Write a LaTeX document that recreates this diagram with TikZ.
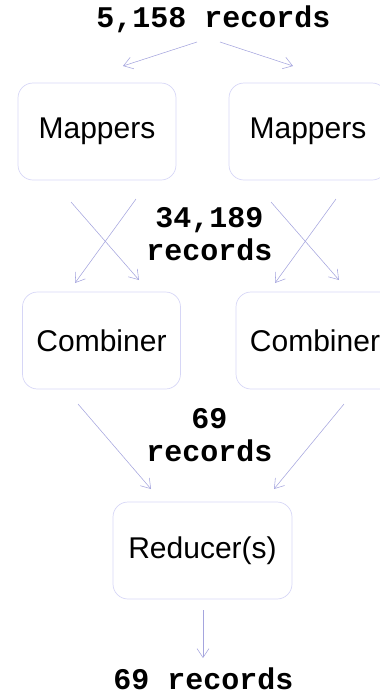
\documentclass[tikz,border=0pt]{standalone}
\usepackage{fontspec}
\setmainfont{Liberation Sans}
\setmonofont{Liberation Mono}
\usepackage{tikz}
\usetikzlibrary{arrows.meta}

\definecolor{boxline}{RGB}{214,214,246}
\definecolor{flowline}{RGB}{165,165,222}

\begin{document}
\begin{tikzpicture}[x=1pt,y=-1pt,
    stage/.style={draw=boxline,line width=0.7pt,rounded corners=15pt,
      minimum width=158pt,minimum height=97pt,inner sep=0pt,
      font=\fontsize{30}{34}\selectfont},
    count/.style={font=\fontsize{30}{33}\selectfont\ttfamily\bfseries,
      align=center,inner sep=0pt},
    flow/.style={draw=flowline,line width=0.55pt,
      -{Straight Barb[length=9pt,width=12pt]}}]
  \useasboundingbox (0,0) rectangle (380,694);
  % input
  \node[count,anchor=base] (input) at (213.5,27) {5,158 records};
  \coordinate (inL) at (197,42);
  \coordinate (inR) at (220,42);
  \coordinate (toMapL) at (123,66);
  \coordinate (toMapR) at (293,66);
  \draw[flow] (inL) -- (toMapL);
  \draw[flow] (inR) -- (toMapR);
  % map stage
  \node[stage] (mapL) at (97,131.5) {Mappers};
  \node[stage] (mapR) at (308,131.5) {Mappers};
  \node[count] (mapout) at (209.5,234.5) {34,189\\records};
  \coordinate (mLa) at (71,202);   \coordinate (mLb) at (136,199);
  \coordinate (mRa) at (271,202);  \coordinate (mRb) at (336,199);
  \coordinate (cLa) at (75,283);   \coordinate (cLb) at (139,280);
  \coordinate (cRa) at (275,283);  \coordinate (cRb) at (339,280);
  \draw[flow] (mLa) -- (cLb);
  \draw[flow] (mLb) -- (cLa);
  \draw[flow] (mRa) -- (cRb);
  \draw[flow] (mRb) -- (cRa);
  % combine stage
  \node[stage] (combL) at (101.5,340.5) {Combiner};
  \node[stage] (combR) at (315,340.5) {Combiner};
  \node[count] (combout) at (209.5,435.5) {69\\records};
  \coordinate (fromCombL) at (78,404);
  \coordinate (fromCombR) at (344,404);
  \coordinate (toRedL) at (151,489);
  \coordinate (toRedR) at (274,489);
  \draw[flow] (fromCombL) -- (toRedL);
  \draw[flow] (fromCombR) -- (toRedR);
  % reduce stage
  \node[stage,minimum width=179pt] (red) at (202.5,550.5) {Reducer(s)};
  \coordinate (fromRed) at (203,610);
  \coordinate (toOut) at (203,658);
  \draw[flow] (fromRed) -- (toOut);
  \node[count,anchor=base] (output) at (203.5,689) {69 records};
\end{tikzpicture}
\end{document}
